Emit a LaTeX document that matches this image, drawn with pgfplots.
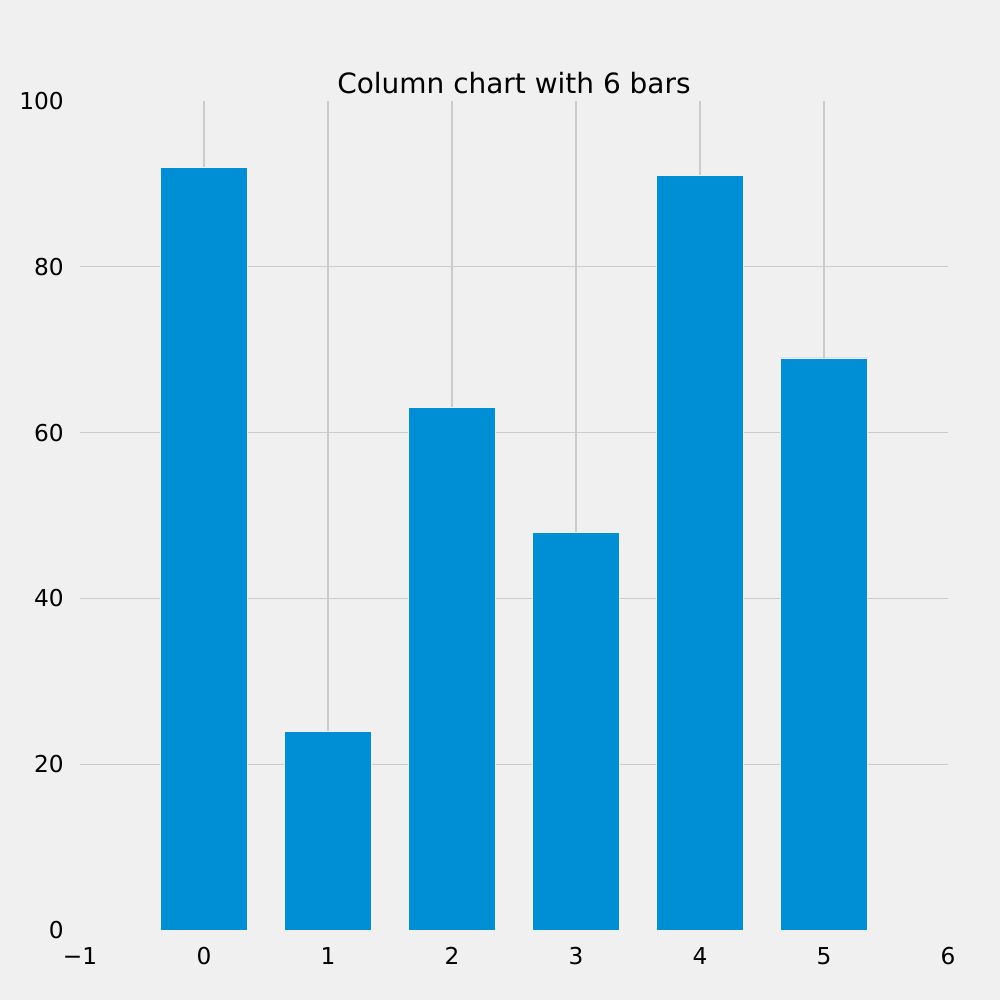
\documentclass[border=0pt]{standalone}
\usepackage{fontspec}
\setmainfont{DejaVu Sans}
\usepackage{pgfplots}
\pgfplotsset{compat=1.18}
\definecolor{bg}{HTML}{F0F0F0}
\definecolor{gridc}{HTML}{CBCBCB}
\definecolor{barc}{HTML}{008FD5}
\begin{document}
\begin{tikzpicture}
\fill[bg] (0,0) rectangle (722.7pt,722.7pt);
\begin{axis}[
  at={(57.8pt,50.6pt)}, anchor=south west,
  scale only axis, width=627.3pt, height=599.1pt,
  xmin=-1, xmax=6, ymin=0, ymax=100,
  axis line style={draw=none},
  major tick length=0pt,
  xtick={0,...,5}, xticklabels={0,1,2,3,4,5},
  extra x ticks={-1,6}, extra x tick labels={−1,6},
  extra x tick style={grid=none},
  ytick={20,40,60,80}, yticklabels={20,40,60,80},
  extra y ticks={0,100}, extra y tick labels={0,100},
  extra y tick style={grid=none},
  grid=major, major grid style={gridc, line width=0.9pt},
  ticklabel style={font=\fontsize{16.8}{20}\selectfont, inner sep=0pt},
  xticklabel style={anchor=north, yshift=-12.3pt},
  yticklabel style={anchor=east, xshift=-11.5pt},
  title={Column chart with 6 bars},
  title style={font=\fontsize{20.2}{24}\selectfont, at={(0.5,1)}, anchor=base, yshift=-0.8pt, inner sep=0pt},
]
\addplot[ybar, bar width=0.7, fill=barc, draw=bg, line width=0.6pt]
  coordinates {(0,92) (1,24) (2,63) (3,48) (4,91) (5,69)};
\end{axis}
\end{tikzpicture}
\end{document}
